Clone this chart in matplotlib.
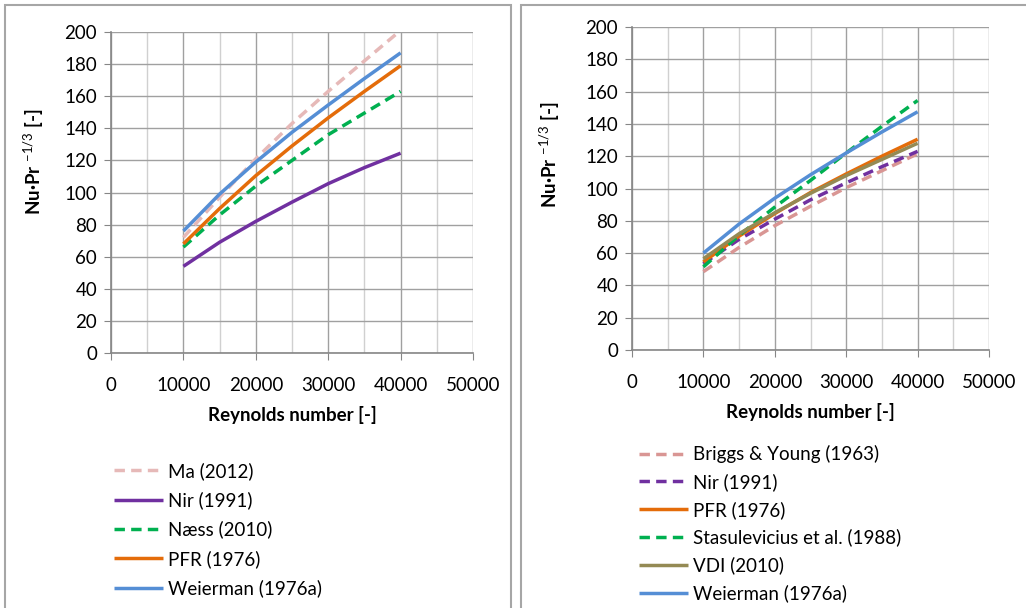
import matplotlib.pyplot as plt
from matplotlib.patches import Rectangle
from matplotlib.ticker import MultipleLocator

plt.rcParams['font.family'] = ['Lato', 'DejaVu Sans']
plt.rcParams['mathtext.fontset'] = 'custom'
plt.rcParams['mathtext.rm'] = 'Lato'

# Reynolds number (same points for every curve)
re = [10000, 15000, 20000, 25000, 30000, 35000, 40000]

# left chart: Nu*Pr^-1/3
ma_2012 = [72, 97, 121, 143, 163, 182, 201]
nir_left = [54, 69, 82, 94, 105.5, 115.5, 124.5]
naess_2010 = [66, 86, 104, 120, 136, 149.5, 163]
pfr_left = [68, 90, 110.5, 129, 146.5, 163, 179]
weierman_left = [76, 99, 119, 137.5, 154.5, 171, 187]

# right chart
briggs_young = [48.5, 63.5, 77, 89, 100.5, 111, 121.5]
nir_right = [53.5, 68.5, 81, 93, 103.5, 113.5, 123]
pfr_right = [54.5, 70.5, 84.5, 97.5, 109, 120, 130.5]
stasulevicius = [51.5, 71, 88.5, 105, 122, 138.5, 154.5]
vdi_2010 = [56.5, 72, 85, 97, 108, 118, 128]
weierman_right = [60, 78, 94, 108.5, 122, 135, 147.5]

left_series = [
    ('Ma (2012)', ma_2012, '#E6B9B8', True),
    ('Nir (1991)', nir_left, '#7030A0', False),
    ('Næss (2010)', naess_2010, '#00B050', True),
    ('PFR (1976)', pfr_left, '#E46C0A', False),
    ('Weierman (1976a)', weierman_left, '#558ED5', False),
]
right_series = [
    ('Briggs & Young (1963)', briggs_young, '#D99694', True),
    ('Nir (1991)', nir_right, '#7030A0', True),
    ('PFR (1976)', pfr_right, '#E46C0A', False),
    ('Stasulevicius et al. (1988)', stasulevicius, '#00B050', True),
    ('VDI (2010)', vdi_2010, '#948A54', False),
    ('Weierman (1976a)', weierman_right, '#558ED5', False),
]

W, H = 1026, 608
FS = 13.5
fig = plt.figure(figsize=(W / 100, H / 100), dpi=100)

# panel borders
for x0, x1 in [(5, 511), (521, 1030)]:
    fig.patches.append(Rectangle((x0 / W, -0.01), (x1 - x0) / W, 1 - 5 / H + 0.01,
                                 transform=fig.transFigure, fill=False,
                                 edgecolor='#a6a6a6', lw=1.5))


def setup(ax, series, ylab_xy, leg_xy, spacing):
    for name, vals, col, dashed in series:
        ax.plot(re, vals, color=col, lw=2.5, label=name,
                linestyle=(0, (3, 1.8)) if dashed else '-', solid_capstyle='butt')
    ax.set_xlim(0, 50000)
    ax.set_ylim(0, 200)
    ax.xaxis.set_major_locator(MultipleLocator(10000))
    ax.xaxis.set_minor_locator(MultipleLocator(5000))
    ax.yaxis.set_major_locator(MultipleLocator(20))
    ax.set_axisbelow(True)
    ax.grid(True, which='major', color='#a0a0a0', lw=1)
    ax.grid(True, which='minor', axis='x', color='#d0d0d0', lw=1)
    for s in ['top', 'right']:
        ax.spines[s].set_visible(False)
    for s in ['left', 'bottom']:
        ax.spines[s].set_color('#868686')
        ax.spines[s].set_linewidth(1.2)
    ax.tick_params(which='major', length=5, color='#868686', labelsize=FS)
    ax.tick_params(axis='x', which='major', pad=12)
    ax.tick_params(axis='y', which='major', pad=5)
    ax.tick_params(which='minor', length=0)
    ax.set_xlabel('Reynolds number [-]', fontsize=FS, fontweight='bold', labelpad=9)
    ax.set_ylabel(r'Nu·Pr $^{\mathrm{-1/3}}$ [-]', fontsize=FS, fontweight='bold')
    ax.yaxis.set_label_coords(*ylab_xy)
    leg = ax.legend(loc='upper left', bbox_to_anchor=leg_xy, bbox_transform=fig.transFigure,
                    frameon=False, fontsize=FS, handlelength=2.6, handletextpad=0.3,
                    labelspacing=spacing, borderaxespad=0, borderpad=0)
    return leg


ax1 = fig.add_axes([111 / W, 1 - 353 / H, 362 / W, 321 / H])
setup(ax1, left_series, (-0.18, (353 - 162) / 321), (114 / W, 1 - 462 / H), 0.61)

ax2 = fig.add_axes([632 / W, 1 - 350 / H, 357 / W, 323 / H])
setup(ax2, right_series, (-0.195, (350 - 155) / 323), (639 / W, 1 - 445 / H), 0.53)

fig.savefig('out.png', dpi=100)
